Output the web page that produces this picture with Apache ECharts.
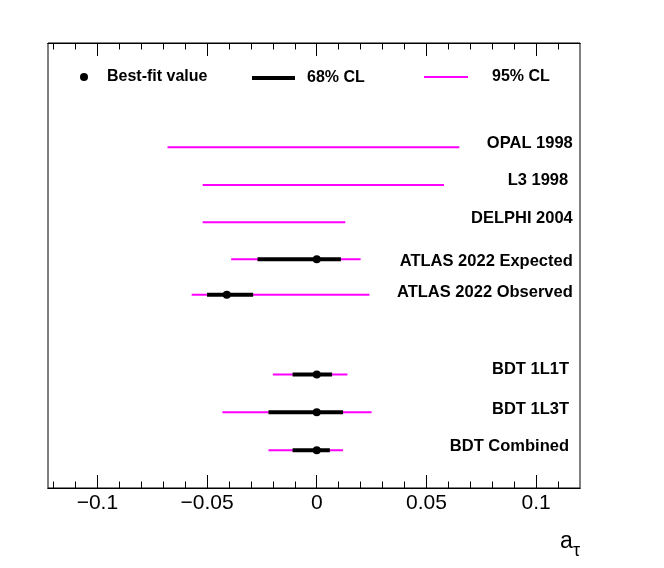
<!DOCTYPE html>
<html><head><meta charset="utf-8">
<script src="https://cdn.jsdelivr.net/npm/echarts@6/dist/echarts.min.js"></script>
<style>html,body{margin:0;padding:0;background:#fff}#c{width:664px;height:568px}</style>
</head><body><div id="c"></div>
<script>
// ---- data ----
const labels = ['OPAL 1998', 'L3 1998 ', 'DELPHI 2004', 'ATLAS 2022 Expected', 'ATLAS 2022 Observed', 'BDT 1L1T', 'BDT 1L3T', 'BDT Combined'];
const rowY   = [9, 8, 7.02, 6.04, 5.1, 3, 2, 1];
const cl95Lo = [-0.068, -0.052, -0.052, -0.039, -0.057, -0.020, -0.043, -0.022];
const cl95Hi = [ 0.065,  0.058,  0.013,  0.020,  0.024,  0.014,  0.025,  0.012];
const cl68Lo = [null, null, null, -0.027, -0.050, -0.011, -0.022, -0.011];
const cl68Hi = [null, null, null,  0.011, -0.029,  0.007,  0.012,  0.006];
const bestFit = [null, null, null, 0, -0.041, 0, 0, 0];
const majorTicks = [-0.1, -0.05, 0, 0.05, 0.1];
const minorTicks = [-0.12, -0.11, -0.09, -0.08, -0.07, -0.06, -0.04, -0.03, -0.02, -0.01, 0.01, 0.02, 0.03, 0.04, 0.06, 0.07, 0.08, 0.09, 0.11];

// ---- chart ----
const FONT = "'Liberation Sans', Arial, Helvetica, sans-serif";
const chart = echarts.init(document.getElementById('c'), null, {renderer: 'canvas'});
const XMIN = -0.1225, XMAX = 0.12;
const fmt = v => (v < 0 ? '\u2212' + String(Math.abs(v)) : String(v));
function xAx(pos, ticks, len, withLabels) {
  const a = {
    type: 'value', min: XMIN, max: XMAX, position: pos, gridIndex: 0,
    axisLine: {show: true, onZero: false, lineStyle: {color: '#000', width: 1}},
    splitLine: {show: false}, minorTick: {show: false},
    axisTick: {show: true, inside: true, length: len, lineStyle: {color: '#000', width: 1}, customValues: ticks},
    axisLabel: {show: false}
  };
  if (withLabels) {
    a.axisLabel = {show: true, customValues: majorTicks, formatter: fmt, fontSize: 21, color: '#000', fontFamily: FONT, margin: 5};
    a.name = 'a{t|\u03c4}';
    a.nameLocation = 'end';
    a.nameGap = 0;
    a.nameTextStyle = {fontSize: 23, color: '#000', fontFamily: FONT, align: 'right', verticalAlign: 'top', padding: [35, 0, 0, 0],
      rich: {t: {fontSize: 18, fontFamily: FONT, color: '#000', padding: [19, 0, 0, 0], verticalAlign: 'bottom'}}};
  }
  return a;
}
const labelDy = [-4, -4.5, -4, 2.2, -2.5, -4.5, -2.8, -4];
const idx68 = labels.map((_, i) => i).filter(i => cl68Lo[i] !== null);
function segItem(width, color) {
  return function (params, api) {
    const a = api.coord([api.value(0), api.value(2)]);
    const b = api.coord([api.value(1), api.value(2)]);
    return {type: 'line', shape: {x1: a[0], y1: a[1], x2: b[0], y2: b[1]}, style: {stroke: color, lineWidth: width}};
  };
}
const legendText = {fontSize: 16, fontWeight: 'bold', color: '#000', fontFamily: FONT};
chart.setOption({
  animation: false,
  backgroundColor: '#fff',
  grid: {left: 48, right: 84, top: 43, bottom: 80, show: true, borderColor: '#000', borderWidth: 1, containLabel: false},
  xAxis: [xAx('bottom', majorTicks, 13, true), xAx('bottom', minorTicks, 6.5, false), xAx('top', majorTicks, 13, false), xAx('top', minorTicks, 6.5, false)],
  yAxis: {type: 'value', min: 0, max: 11.75, show: false},
  legend: [
    {data: [{name: 'Best-fit value', icon: 'circle'}], left: 75, top: 64, itemWidth: 8, itemHeight: 8, textStyle: Object.assign({}, legendText, {padding: [0, 0, 2, 14]}), selectedMode: false},
    {data: [{name: '68% CL', icon: 'rect'}], left: 247, top: 65, itemWidth: 43, itemHeight: 4, textStyle: Object.assign({}, legendText, {padding: [0, 0, 6, 7]}), selectedMode: false},
    {data: [{name: '95% CL', icon: 'rect'}], left: 419, top: 64, itemWidth: 44, itemHeight: 2, textStyle: Object.assign({}, legendText, {padding: [0, 0, 10, 19]}), selectedMode: false}
  ],
  series: [
    {type: 'custom', name: '95% CL', xAxisIndex: 0, yAxisIndex: 0, z: 2, itemStyle: {color: '#ff00ff'},
      data: labels.map((_, i) => [cl95Lo[i], cl95Hi[i], rowY[i]]), encode: {x: [0, 1], y: 2}, renderItem: segItem(2, '#ff00ff')},
    {type: 'custom', name: '68% CL', xAxisIndex: 0, yAxisIndex: 0, z: 3, itemStyle: {color: '#000'},
      data: idx68.map(i => [cl68Lo[i], cl68Hi[i], rowY[i]]), encode: {x: [0, 1], y: 2}, renderItem: segItem(4, '#000')},
    {type: 'scatter', name: 'Best-fit value', xAxisIndex: 0, yAxisIndex: 0, z: 4, symbol: 'circle', symbolSize: 8, itemStyle: {color: '#000', opacity: 1},
      data: idx68.map(i => [bestFit[i], rowY[i]])},
    {type: 'scatter', name: 'labels', xAxisIndex: 0, yAxisIndex: 0, z: 5, symbolSize: 0, silent: true, itemStyle: {opacity: 1},
      data: labels.map((t, i) => ({value: [i >= 5 ? 0.115 : 0.1167, rowY[i]],
        label: {show: true, position: 'left', distance: 0, offset: [0, labelDy[i]], formatter: t,
          fontSize: 16.5, fontWeight: 'bold', color: '#000', fontFamily: FONT}}))}
  ]
});
</script></body></html>
